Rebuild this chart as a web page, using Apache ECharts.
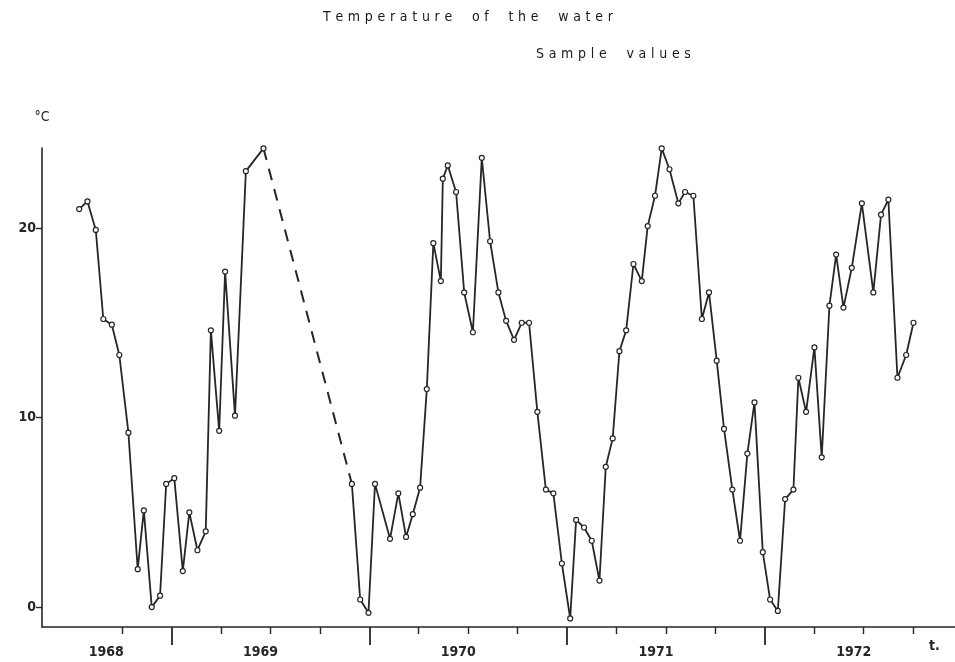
<!DOCTYPE html>
<html>
<head>
<meta charset="utf-8">
<script src="https://cdn.jsdelivr.net/npm/echarts@6.0.0/dist/echarts.min.js"></script>
<style>
  html, body { margin: 0; padding: 0; background: #fff; }
  #chart { width: 955px; height: 662px; }
</style>
</head>
<body>
<div id="chart"></div>
<script>
// Sample dates (decimal years) and water temperature (°C)
// First run of samples, 1968 to early 1969
const dates1 = [1968.033, 1968.075, 1968.117, 1968.155, 1968.198, 1968.236, 1968.282, 1968.329,
  1968.360, 1968.400, 1968.442, 1968.473, 1968.514, 1968.557, 1968.590, 1968.631, 1968.673,
  1968.699, 1968.741, 1968.771, 1968.821, 1968.876, 1968.965];
const temps1 = [21.0, 21.4, 19.9, 15.2, 14.9, 13.3, 9.2, 2.0,
  5.1, 0.0, 0.6, 6.5, 6.8, 1.9, 5.0, 3.0, 4.0,
  14.6, 9.3, 17.7, 10.1, 23.0, 24.2];

// Second run of samples, mid 1969 to 1972
const dates2 = [1969.412, 1969.454, 1969.496, 1969.529, 1969.605, 1969.647, 1969.686, 1969.720,
  1969.757, 1969.791, 1969.824, 1969.862, 1969.872, 1969.897, 1969.939, 1969.980, 1970.024,
  1970.069, 1970.111, 1970.153, 1970.192, 1970.232, 1970.271, 1970.308, 1970.350, 1970.393,
  1970.431, 1970.474, 1970.516, 1970.546, 1970.586, 1970.625, 1970.664, 1970.696, 1970.731,
  1970.765, 1970.799, 1970.836, 1970.878, 1970.908, 1970.945, 1970.979, 1971.018, 1971.063,
  1971.097, 1971.139, 1971.182, 1971.218, 1971.257, 1971.294, 1971.336, 1971.375, 1971.412,
  1971.448, 1971.490, 1971.527, 1971.566, 1971.603, 1971.645, 1971.670, 1971.709, 1971.751,
  1971.788, 1971.827, 1971.861, 1971.898, 1971.940, 1971.991, 1972.049, 1972.088, 1972.125,
  1972.171, 1972.215, 1972.252];
const temps2 = [6.5, 0.4, -0.3, 6.5, 3.6, 6.0, 3.7, 4.9,
  6.3, 11.5, 19.2, 17.2, 22.6, 23.3, 21.9, 16.6, 14.5,
  23.7, 19.3, 16.6, 15.1, 14.1, 15.0, 15.0, 10.3, 6.2,
  6.0, 2.3, -0.6, 4.6, 4.2, 3.5, 1.4, 7.4, 8.9,
  13.5, 14.6, 18.1, 17.2, 20.1, 21.7, 24.2, 23.1, 21.3,
  21.9, 21.7, 15.2, 16.6, 13.0, 9.4, 6.2, 3.5, 8.1,
  10.8, 2.9, 0.4, -0.2, 5.7, 6.2, 12.1, 10.3, 13.7,
  7.9, 15.9, 18.6, 15.8, 17.9, 21.3, 16.6, 20.7, 21.5,
  12.1, 13.3, 15.0];

// Axis ticks
const yearLabels = [1968, 1969, 1970, 1971, 1972];
const quarterTicks = [1968.25, 1968.75, 1969.0, 1969.25, 1969.75, 1970.0, 1970.25, 1970.75,
  1971.0, 1971.25, 1971.75, 1972.0, 1972.25];
const midYearTicks = [1968.5, 1969.5, 1970.5, 1971.5];
const tempTicks = [0, 10, 20];

const INK = '#262626';
const FONT = "'DejaVu Sans Condensed', 'DejaVu Sans', sans-serif";

// Letter-spaced heading text built from rich tokens
function spaced(text) {
  return text.split('').map(ch => ch === ' ' ? '{s| }' : '{c|' + ch + '}').join('');
}
const headingStyle = { fontSize: 14, fontFamily: FONT, fontWeight: 'normal', color: '#1a1a1a' };
const spacedRich = {
  c: Object.assign({ padding: [0, 4.7, 0, 0] }, headingStyle),
  s: Object.assign({ padding: [0, 11, 0, 0] }, headingStyle)
};

const X_MIN = 1967.845, X_MAX = 1972.462;
// Year label anchors (the first one is kept clear of the corner)
const yearLabelAt = yearLabels.map(y => y === 1968 ? 1968.17 : y - 0.05);

const chart = echarts.init(document.getElementById('chart'), null, { renderer: 'canvas' });

const pointStyle = {
  symbol: 'circle',
  symbolSize: 5,
  itemStyle: { color: '#fff', borderColor: INK, borderWidth: 1.2 }
};

chart.setOption({
  animation: false,
  backgroundColor: '#fff',
  title: [
    { text: spaced('Temperature of the water'), left: 318, top: 5,
      textStyle: Object.assign({ rich: spacedRich }, headingStyle) },
    { text: spaced('Sample values'), left: 531, top: 42,
      textStyle: Object.assign({ rich: spacedRich }, headingStyle) }
  ],
  grid: { left: 42, right: 0, top: 148, bottom: 35, containLabel: false },
  xAxis: [
    {
      type: 'value', min: X_MIN, max: X_MAX, position: 'bottom',
      name: 't.', nameLocation: 'end', nameGap: -26,
      nameTextStyle: { color: INK, fontFamily: FONT, fontSize: 14, fontWeight: 'bold',
        verticalAlign: 'top', align: 'left', padding: [12, 0, 0, 0] },
      axisLine: { show: true, onZero: false, lineStyle: { color: INK, width: 1.6 } },
      axisTick: { show: true, customValues: quarterTicks, length: 7,
        lineStyle: { color: INK, width: 1.4 } },
      axisLabel: { show: true, customValues: yearLabelAt, margin: 18,
        formatter: v => String(Math.round(v)),
        color: INK, fontFamily: FONT, fontSize: 14, fontWeight: 'bold' },
      splitLine: { show: false }
    },
    {
      type: 'value', min: X_MIN, max: X_MAX, position: 'bottom',
      axisLine: { show: false, onZero: false },
      axisTick: { show: true, customValues: midYearTicks, length: 18,
        lineStyle: { color: INK, width: 1.8 } },
      axisLabel: { show: false },
      splitLine: { show: false }
    }
  ],
  yAxis: {
    type: 'value', min: -1.05, max: 24.22,
    name: '°C', nameLocation: 'end', nameGap: 24,
    nameTextStyle: { color: INK, fontFamily: FONT, fontSize: 14, align: 'center' },
    axisLine: { show: true, onZero: false, lineStyle: { color: INK, width: 1.6 } },
    axisTick: { show: true, customValues: tempTicks, length: 6,
      lineStyle: { color: INK, width: 1.4 } },
    axisLabel: { customValues: tempTicks, margin: 6,
      color: INK, fontFamily: FONT, fontSize: 14, fontWeight: 'bold' },
    splitLine: { show: false }
  },
  series: [
    {
      type: 'line', name: 'run1', clip: false,
      data: dates1.map((d, i) => [d, temps1[i]]),
      lineStyle: { color: INK, width: 1.8 },
      ...pointStyle, z: 3
    },
    {
      type: 'line', name: 'gap', clip: false, showSymbol: false,
      data: [[dates1[dates1.length - 1], temps1[temps1.length - 1]], [dates2[0], temps2[0]]],
      lineStyle: { color: INK, width: 2, type: [12, 9] },
      z: 2
    },
    {
      type: 'line', name: 'run2', clip: false,
      data: dates2.map((d, i) => [d, temps2[i]]),
      lineStyle: { color: INK, width: 1.8 },
      ...pointStyle, z: 3
    }
  ]
});
</script>
</body>
</html>
